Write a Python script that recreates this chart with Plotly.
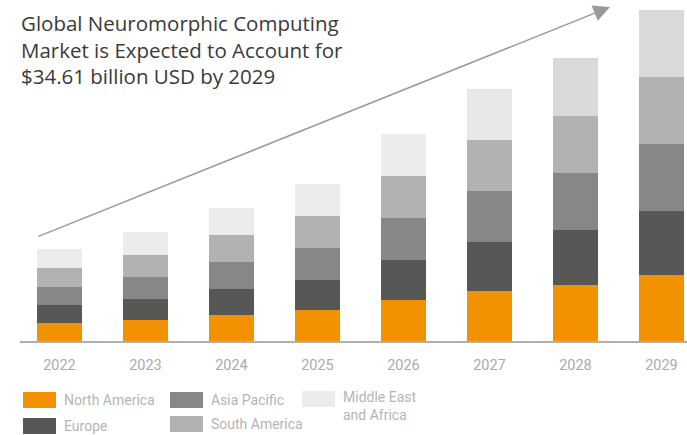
import plotly.graph_objects as go

years = ["2022", "2023", "2024", "2025", "2026", "2027", "2028", "2029"]
north_america = [1.88, 2.19, 2.72, 3.24, 4.32, 5.26, 5.88, 6.93]
europe = [1.88, 2.19, 2.72, 3.13, 4.18, 5.12, 5.75, 6.69]
asia_pacific = [1.88, 2.30, 2.82, 3.34, 4.39, 5.33, 5.95, 7.00]
south_america = [1.98, 2.30, 2.82, 3.34, 4.39, 5.33, 5.95, 7.00]
middle_east_africa = [1.98, 2.40, 2.82, 3.34, 4.39, 5.33, 6.06, 7.00]

series_names = ["North America", "Europe", "Asia Pacific", "South America", "Middle East and Africa"]
series_values = [north_america, europe, asia_pacific, south_america, middle_east_africa]
series_colors = ["#f39200", "#575756", "#878787", "#b2b2b2",
                 ["#ececec", "#ececec", "#ececec", "#ececec", "#ececec", "#e8e8e8", "#dadada", "#dadada"]]

W, H = 687, 435
ML, MR, MT, MB = 20, 0, 0, 94
PW, PH = W - ML - MR, H - MT - MB

def px_x(px):
    return (px - ML) / PW

def px_y(py):
    return (H - MB - py) / PH

fig = go.Figure()
for name, vals, col in zip(series_names, series_values, series_colors):
    fig.add_trace(go.Bar(x=list(range(len(years))), y=vals, name=name,
                         marker=dict(color=col, line=dict(width=0)),
                         showlegend=False))

fig.update_layout(
    width=W, height=H,
    margin=dict(l=ML, r=MR, t=MT, b=MB),
    barmode="stack", bargap=0.4767,
    plot_bgcolor="white", paper_bgcolor="white",
    font=dict(family="Roboto", color="#aaaaaa"),
    xaxis=dict(
        tickmode="array", tickvals=list(range(len(years))), ticktext=years,
        range=[-0.459, -0.459 + PW / 86.0],
        showgrid=False, zeroline=False,
        showline=True, linecolor="#b0b0b0", linewidth=1.5,
        ticks="outside", ticklen=10, tickcolor="rgba(0,0,0,0)",
        tickfont=dict(size=14.5, color="#ababab", family="Roboto"),
    ),
    yaxis=dict(range=[0, PH / 9.573], visible=False),
)

# Title
fig.add_annotation(
    x=px_x(19), y=px_y(7), xref="paper", yref="paper",
    xanchor="left", yanchor="top", align="left", showarrow=False,
    text="Global Neuromorphic Computing<br>Market is Expected to Account for<br>$34.61 billion USD by 2029",
    font=dict(size=20.5, color="#3a3a3a", family="Open Sans"),
)

# Growth arrow
fig.add_annotation(
    x=px_x(610), y=px_y(7), xref="paper", yref="paper",
    ax=37 - 610, ay=237 - 7, axref="pixel", ayref="pixel",
    showarrow=True, arrowhead=2, arrowsize=2.2, arrowwidth=1.5,
    arrowcolor="#9a9a9a", text="",
)

# Custom legend
legend_items = [
    ("North America", "#f39200", 23, 392),
    ("Europe", "#575756", 23, 418),
    ("Asia Pacific", "#878787", 170, 392),
    ("South America", "#b2b2b2", 170, 416),
    ("Middle East<br>and Africa", "#ececec", 302, 391),
]
for label, col, lx, ly in legend_items:
    fig.add_shape(type="rect", xref="paper", yref="paper",
                  x0=px_x(lx), x1=px_x(lx + 33), y0=px_y(ly), y1=px_y(ly + 16),
                  fillcolor=col, line=dict(width=0))
    if "<br>" in label:
        fig.add_annotation(x=px_x(lx + 39), y=px_y(ly - 4), xref="paper", yref="paper",
                           xanchor="left", yanchor="top", align="left", showarrow=False,
                           text=label, font=dict(size=14, color="#b5b5b5", family="Roboto"))
    else:
        fig.add_annotation(x=px_x(lx + 39), y=px_y(ly + 8), xref="paper", yref="paper",
                           xanchor="left", yanchor="middle", align="left", showarrow=False,
                           text=label, font=dict(size=14, color="#b5b5b5", family="Roboto"))

fig.write_html("out.html")
